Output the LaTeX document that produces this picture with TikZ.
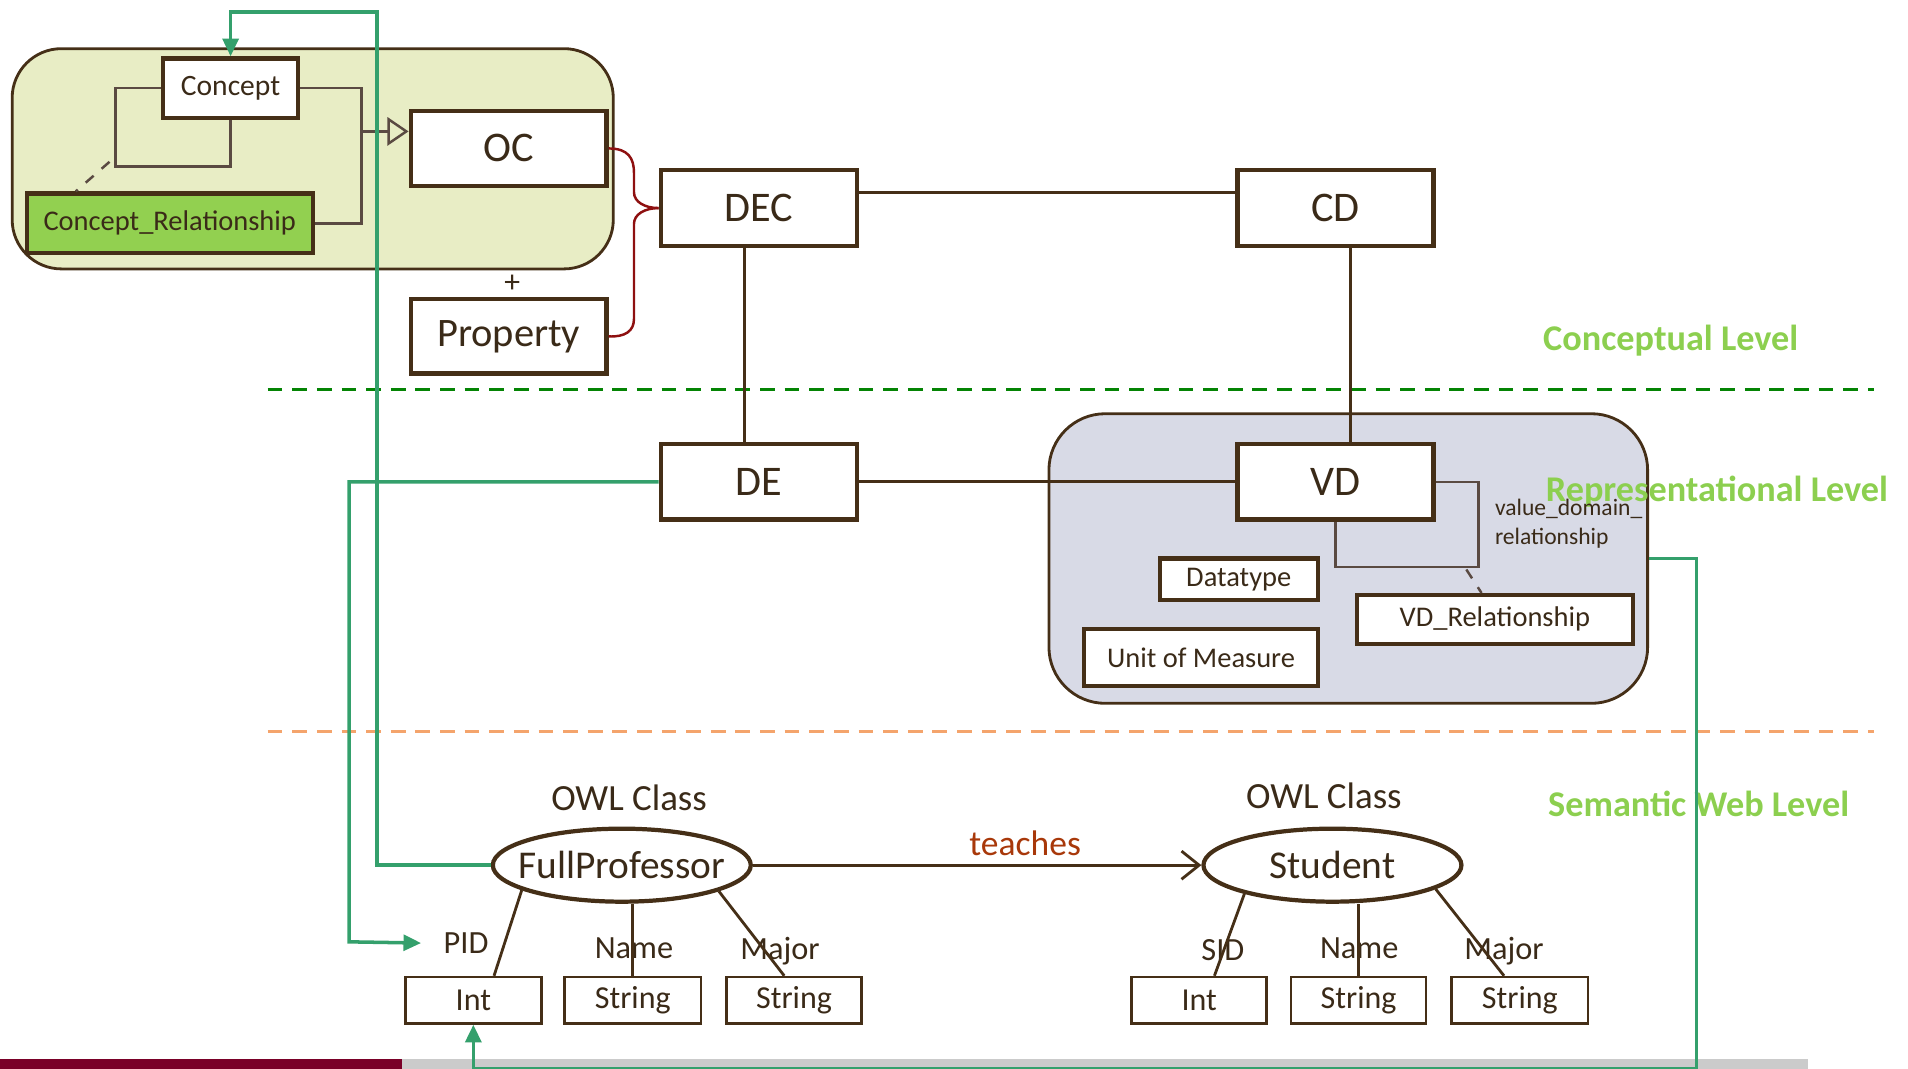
\documentclass[tikz,border=0pt]{standalone}
\usepackage{fontspec}
\setmainfont{Carlito}
\usetikzlibrary{arrows.meta,shapes.geometric}

\newcommand{\dpx}{0.012168cm}
\definecolor{brownline}{HTML}{452F17}
\definecolor{txtbrown}{HTML}{3A2A18}
\definecolor{loopgray}{HTML}{5A4A42}
\definecolor{conceptbg}{HTML}{E8EDC5}
\definecolor{crelgreen}{HTML}{92D050}
\definecolor{vdbg}{HTML}{D8DAE6}
\definecolor{linkgreen}{HTML}{34A06C}
\definecolor{bracered}{HTML}{8E1010}
\definecolor{levelgreen}{HTML}{8CCF4F}
\definecolor{dashgreen}{HTML}{048404}
\definecolor{dashorange}{HTML}{F4A46C}
\definecolor{teachred}{HTML}{A8380A}
\definecolor{barred}{HTML}{7A0028}
\definecolor{bargray}{HTML}{CBCBCB}

\tikzset{
  box/.style={draw=brownline, line width=1.2pt, fill=white, inner sep=0pt, text=txtbrown},
  bigbox/.style={box, minimum width=161*\dpx, minimum height=62*\dpx, font=\fontsize{12}{14}\selectfont},
  smallbox/.style={box, font=\fontsize{8.1}{10}\selectfont},
  attrbox/.style={box, line width=0.75pt, minimum width=112*\dpx, minimum height=38*\dpx, font=\fontsize{9.1}{11}\selectfont},
  classnode/.style={ellipse, draw=brownline, line width=1.2pt, minimum width=212*\dpx, minimum height=60*\dpx, inner sep=0pt},
  classtext/.style={text=txtbrown, font=\fontsize{11.2}{13}\selectfont, inner sep=0pt},
  group/.style={draw=brownline, line width=0.8pt, rounded corners=14pt, inner sep=0pt},
  conn/.style={draw=brownline, line width=0.8pt},
  loopline/.style={draw=loopgray, line width=0.7pt},
  link/.style={draw=linkgreen, line width=1pt, -{Triangle[length=5pt,width=4.5pt]}},
  brace/.style={draw=bracered, line width=0.7pt},
  level/.style={text=levelgreen, font=\fontsize{10.3}{12}\selectfont\bfseries},
  lbl/.style={text=txtbrown, font=\fontsize{9.2}{11}\selectfont, inner sep=0pt},
  levelline/.style={line width=1pt, dash pattern=on 4.2pt off 2.8pt}
}

\begin{document}
\begin{tikzpicture}[x=0.012168cm, y=-0.012168cm]
  \useasboundingbox (0,0) rectangle (1568,878.5);

  % groups
  \node[group, fill=conceptbg, minimum width=494*\dpx, minimum height=181*\dpx] (cgrp) at (257,130.5) {};
  \node[group, fill=vdbg, rounded corners=16pt, minimum width=492*\dpx, minimum height=238*\dpx] (vdgrp) at (1108,459) {};

  % level separators
  \draw[levelline, dashgreen] (220,320) -- (1540,320);
  \draw[levelline, dashorange] (220,601) -- (1540,601);
  \node[level] (lconc) at (1373,280) {Conceptual Level};
  \node[level] (lrepr) at (1411,404) {Representational Level};
  \node[level] (lsem) at (1396,661) {Semantic Web Level};

  % bottom bar
  \fill[bargray] (330,870) rectangle (1486,878.5);
  \fill[barred] (0,870) rectangle (330,878.5);

  % conceptual level
  \node[smallbox, minimum width=111*\dpx, minimum height=49*\dpx, font=\fontsize{8.4}{10}\selectfont] (concept) at (189.5,72.5) {Concept};
  \node[smallbox, fill=crelgreen, minimum width=235*\dpx, minimum height=49*\dpx] (crel) at (139.5,183.5) {Concept\_Relationship};
  \node[bigbox] (oc) at (418,122) {OC};
  \node[bigbox, minimum height=61*\dpx, font=\fontsize{11.5}{13}\selectfont] (prop) at (418,276.5) {Property};
  \node[lbl, font=\fontsize{9}{10}\selectfont] (plus) at (421,233) {+};
  \node[bigbox] (dec) at (623.5,171) {DEC};
  \node[bigbox] (cd) at (1097.5,171) {CD};

  \coordinate (genjoin) at (297,108);
  \draw[loopline] (concept.west) -| (95,137) -| (concept.south);
  \draw[loopline, dashed] (90,133) -- ([xshift=42*\dpx]crel.north west);
  \draw[loopline] (concept.east) -| (genjoin) |- (crel.east);
  \draw[loopline, -{Triangle[open,length=6pt,width=8pt]}] (genjoin) -- (genjoin -| oc.west);

  \draw[brace] (oc.east) .. controls +(16,0) and +(0,-12) .. (521,142) -- (521,158)
     .. controls (521,166) and (530,171) .. (dec.west);
  \draw[brace] (dec.west) .. controls (530,171) and (521,176) .. (521,184) -- (521,262)
     .. controls (521,272) and (514,277) .. (prop.east);

  \draw[conn] ([yshift=13*\dpx]dec.east) -- ([yshift=13*\dpx]cd.west);

  % representational level
  \node[bigbox] (de) at (623.5,396) {DE};
  \node[bigbox] (vd) at (1097.5,396) {VD};
  \node[smallbox, minimum width=130*\dpx, minimum height=34*\dpx] (dtype) at (1018,476) {Datatype};
  \node[smallbox, minimum width=192*\dpx, minimum height=47*\dpx] (uom) at (987,540.5) {Unit of Measure};
  \node[smallbox, minimum width=227*\dpx, minimum height=40*\dpx] (vdrel) at (1228.5,509) {VD\_Relationship};
  \node[lbl, font=\fontsize{6.7}{8}\selectfont, align=left, anchor=north west] (vdrtxt) at (1228,410) {value\_domain\_\\relationship};

  \draw[conn] ([xshift=-11.5*\dpx]dec.south) -- ([xshift=-11.5*\dpx]de.north);
  \draw[conn] ([xshift=12.5*\dpx]cd.south) -- ([xshift=12.5*\dpx]vd.north);
  \draw[conn] (de.east) -- (vd.west);
  \draw[loopline] (vd.east) -| (1215,466) -| (vd.south);
  \draw[loopline, dashed] (1205,468) -- ([xshift=-11*\dpx]vdrel.north);

  % semantic web level
  \node[lbl, font=\fontsize{10.5}{12}\selectfont] (owlfp) at (517,656) {OWL Class};
  \node[lbl, font=\fontsize{10.5}{12}\selectfont] (owlst) at (1088,654) {OWL Class};
  \node[classnode] (fullprof) at (511,711) {};
  \node[classtext] (fptext) at (fullprof.center) {FullProfessor};
  \node[classnode] (student) at (1095,711) {};
  \node[classtext] (sttext) at (student.center) {Student};
  \draw[conn, -{Straight Barb[length=5pt,width=8pt]}] (fullprof.east) -- (student.west)
     node[pos=0.607, above=-1pt, text=teachred, font=\fontsize{10.1}{12}\selectfont] (teaches) {teaches};

  \node[attrbox] (fpint) at (389,822) {Int};
  \node[attrbox] (fpname) at (520,822) {String};
  \node[attrbox, minimum width=111*\dpx] (fpmajor) at (652.5,822) {String};
  \node[attrbox, minimum width=111*\dpx] (stint) at (985.5,822) {Int};
  \node[attrbox, minimum width=111*\dpx] (stname) at (1116.5,822) {String};
  \node[attrbox] (stmajor) at (1249,822) {String};

  \node[lbl] (pid) at (383,775) {PID};
  \node[lbl] (fpnamel) at (521,779) {Name};
  \node[lbl] (fpmajorl) at (641,782) {Major};
  \node[lbl] (sid) at (1005,781) {SID};
  \node[lbl] (stnamel) at (1117,779) {Name};
  \node[lbl] (stmajorl) at (1236,782) {Major};

  \draw[conn] (fullprof.194) -- ([xshift=17*\dpx]fpint.north);
  \draw[conn] (fpname.north) -- (fpname.north |- fullprof.south);
  \draw[conn] (fullprof.345) -- ([xshift=-8*\dpx]fpmajor.north);
  \draw[conn] (student.198) -- ([xshift=12.5*\dpx]stint.north);
  \draw[conn] (stname.north) -- (stname.north |- student.south);
  \draw[conn] (student.347) -- ([xshift=-13*\dpx]stmajor.north);

  % mapping links
  \coordinate (topbend) at (310,10);
  \coordinate (pidbend) at (287,774);
  \coordinate (bottombend) at (1394,878);
  \draw[link] (fullprof.west) -| (topbend) -| (concept.north);
  \draw[link] (de.west) -| (pidbend) -- ([xshift=-18*\dpx]pid.west);
  \draw[link] (vdgrp.east) -| (bottombend) -| (fpint.south);
\end{tikzpicture}
\end{document}
